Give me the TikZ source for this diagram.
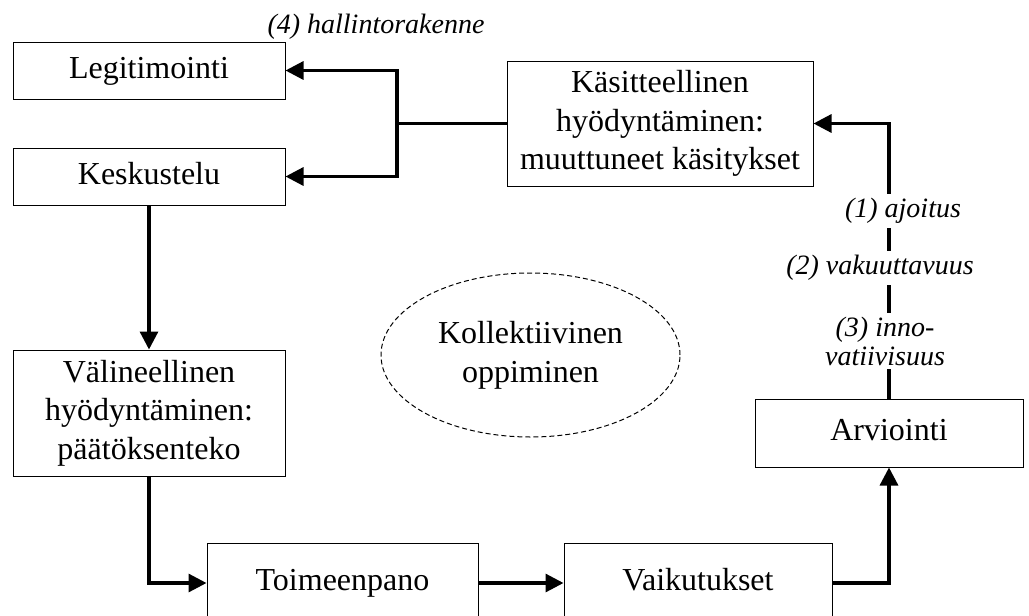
\documentclass[tikz,border=0pt]{standalone}
\usepackage{fontspec}
\setmainfont{Liberation Serif}[ItalicFont={Liberation Serif Italic},BoldFont={Liberation Serif Bold}]
\usetikzlibrary{arrows.meta,shapes.geometric}

\begin{document}
\begin{tikzpicture}[x=0.5pt,y=-0.5pt]
      \clip (0,0) rectangle (1029,616);
      \begin{scope}[every node/.style={draw,line width=0.5pt,align=center,inner sep=0pt,font=\fontsize{16}{19.3}\selectfont}]
        \node[minimum width=136pt,minimum height=28.5pt,text height=11pt,text depth=3.5pt] (leg) at (149,70.5) {Legitimointi};
        \node[minimum width=136pt,minimum height=28.5pt,text height=11pt,text depth=3.5pt] (kes) at (149,176.5) {Keskustelu};
        \node[minimum width=153pt,minimum height=62.5pt] (kas) at (660,123.5) {Käsitteellinen\\hyödyntäminen:\\muuttuneet käsitykset};
        \node[minimum width=136pt,minimum height=63pt] (val) at (149,413) {Välineellinen\\hyödyntäminen:\\päätöksenteko};
        \node[minimum width=135.5pt,minimum height=40pt,text height=11pt,text depth=3.5pt] (toi) at (342.5,583) {Toimeenpano};
        \node[minimum width=134pt,minimum height=40pt,text height=11pt,text depth=3.5pt] (vai) at (698,583) {Vaikutukset};
        \node[minimum width=134pt,minimum height=34pt,text height=11pt,text depth=3.5pt] (arv) at (889,433) {Arviointi};
        \node[ellipse,dash pattern=on 2.5pt off 1.5pt,minimum width=149.5pt,minimum height=82pt] (opp) at (530.5,355) {Kollektiivinen\\oppiminen};
      \end{scope}
      \coordinate (split) at (397,123.5);
      \begin{scope}[line width=1.6pt,every edge/.style={draw,-{Triangle[length=9pt,width=9pt]}}]
        \draw (kas.west) -- (split);
        \draw[-{Triangle[length=9pt,width=9pt]}] (split) |- (leg.east);
        \draw[-{Triangle[length=9pt,width=9pt]}] (split) |- (kes.east);
        \path (kes) edge (val);
        \draw[-{Triangle[length=9pt,width=9pt]}] (val.south) |- (toi.west);
        \path (toi) edge (vai);
        \draw[-{Triangle[length=9pt,width=9pt]}] (vai.east) -| (arv.south);
        \draw[-{Triangle[length=9pt,width=9pt]}] (arv.north) |- (kas.east);
      \end{scope}
      \begin{scope}[every node/.style={fill=white,inner sep=2pt,align=center,font=\fontsize{14}{14.5}\selectfont\itshape}]
        \node (ajo) at (903,211) {(1) ajoitus};
        \node (vak) at (880,268) {(2) vakuuttavuus};
        \node (inn) at (885,341) {(3) inno-\\vatiivisuus};
        \node[fill=none] (hal) at (376,27) {(4) hallintorakenne};
      \end{scope}
    \end{tikzpicture}
\end{document}
